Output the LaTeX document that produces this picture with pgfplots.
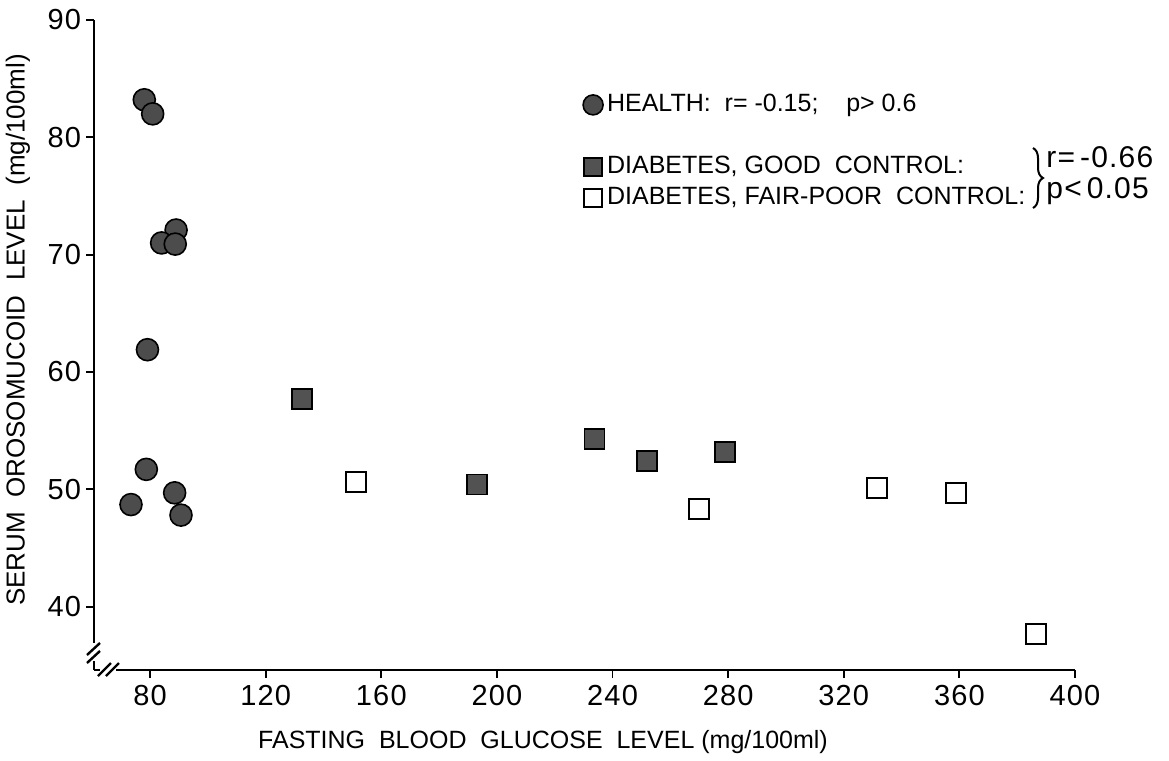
\documentclass[border=0pt]{standalone}
\usepackage{fontspec}
\setmainfont{Liberation Sans}
\usepackage{pgfplots}
\pgfplotsset{compat=1.18}
\usetikzlibrary{decorations.pathreplacing}
\begin{document}
\begin{tikzpicture}
\begin{scope}[x=0.5pt,y=-0.5pt,shift={(-94,-670)}]
\useasboundingbox (0,0) rectangle (1169,761);
\end{scope}
\begin{axis}[
  at={(0,0)}, anchor=south west,
  scale only axis, width=490.5pt, height=325pt,
  xmin=60.6, xmax=400, ymin=34.6, ymax=90,
  axis lines=left, axis line style={line width=1.4pt,-},
  xtick={80,120,...,400}, ytick={40,50,...,90},
  tick align=outside, major tick length=4pt,
  tick style={line width=0.9pt,black},
  ticklabel style={font=\fontsize{14.5}{14.5}\selectfont\addfontfeature{LetterSpace=4}},
  yticklabel style={xshift=1pt},
  /pgf/number format/assume math mode=true,
  clip=false,
  legend image code/.code={\draw[mark repeat=2,mark phase=2,#1] plot coordinates {(0pt,0pt) (6pt,0pt) (12pt,0pt)};},
  legend style={draw=none, fill=none, at={(0.49,0.90)}, anchor=north west,
    font=\fontsize{12.5}{12.5}\selectfont, row sep=0pt,
    nodes={text height=9pt, text depth=2.5pt, inner ysep=2pt, inner xsep=2pt},
    cells={anchor=west}},
]
\addplot[only marks, mark=*, mark size=5.5pt, mark options={draw=black, fill=black!70, line width=0.8pt}, forget plot]
coordinates {(78.0,83.2) (80.9,82.0) (89.0,72.1) (84.0,71.0) (88.7,70.9) (79.1,61.9) (78.7,51.7) (88.5,49.7) (73.4,48.7) (90.7,47.8)};
\addplot[only marks, mark=square*, mark size=5pt, mark options={draw=black, fill=black!68, line width=0.8pt}, forget plot]
coordinates {(132.5,57.7) (193.1,50.4) (233.8,54.3) (251.9,52.4) (278.9,53.2)};
\addplot[only marks, mark=square, mark size=5pt, mark options={draw=black, line width=1pt}, forget plot]
coordinates {(151.3,50.6) (270.0,48.3) (331.4,50.1) (358.9,49.7) (386.6,37.7)};
\addlegendimage{only marks, mark=*, mark size=5pt, mark options={draw=black, fill=black!70, line width=0.8pt}}
\addlegendentry{HEALTH:\ \ r=\ -0.15;\ \ \ \ p>\ 0.6}
\addlegendimage{empty legend}
\addlegendentry{}
\addlegendimage{only marks, mark=square*, mark size=4.5pt, mark options={draw=black, fill=black!68, line width=0.8pt}}
\addlegendentry{DIABETES, GOOD\ \ CONTROL:}
\addlegendimage{only marks, mark=square, mark size=4.5pt, mark options={draw=black, line width=1pt}}
\addlegendentry{DIABETES, FAIR-POOR\ \ CONTROL:}
\end{axis}
\begin{scope}[x=0.5pt,y=-0.5pt,shift={(-94,-670)}]
% axis breaks
\fill[white] (88,643) rectangle (100,661);
\fill[white] (100,664) rectangle (116,676);
\draw[line width=1.2pt] (87,655) -- (100,643);
\draw[line width=1.2pt] (87,663) -- (100,651);
\draw[line width=1.2pt] (98,676) -- (111,663);
\draw[line width=1.2pt] (106,676) -- (119,663);
% brace and stats
\draw[line width=1pt, decorate, decoration={brace, amplitude=5pt}] (1033,148) -- (1033,208);
\node[anchor=west, font=\fontsize{15}{15}\selectfont\addfontfeature{LetterSpace=4}, inner sep=0pt] at (1046,157) {r=\,-0.66};
\node[anchor=west, font=\fontsize{15}{15}\selectfont\addfontfeature{LetterSpace=4}, inner sep=0pt] at (1046,191) {p<\,0.05};
% axis titles
\node[font=\fontsize{12.5}{12.5}\selectfont, inner sep=0pt] at (543,742) {FASTING\ \ BLOOD\ \ GLUCOSE\ \ LEVEL (mg/100ml)};
\node[font=\fontsize{13}{13}\selectfont, inner sep=0pt, rotate=90] at (18,330) {SERUM\ \ OROSOMUCOID\ \ LEVEL\ \ (mg/100ml)};
\end{scope}
\end{tikzpicture}
\end{document}
